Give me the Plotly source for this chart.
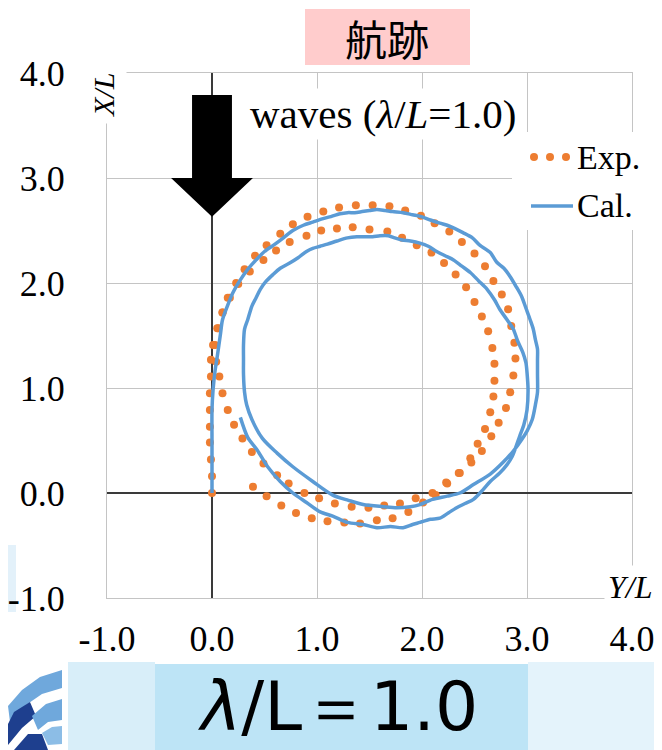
import plotly.graph_objects as go

# ---------------- data (units of L) ----------------
exp_y_over_L = [0.00, 0.00, -0.01, -0.02, -0.02, -0.02, -0.02, -0.01, -0.01, 0.01,
                0.05, 0.10, 0.15, 0.23, 0.31, 0.41, 0.52, 0.65, 0.77, 0.91,
                1.06, 1.21, 1.37, 1.53, 1.69, 1.84, 1.99, 2.12, 2.26, 2.38,
                2.50, 2.60, 2.68, 2.76, 2.82, 2.85, 2.88, 2.89, 2.87, 2.84,
                2.80, 2.73, 2.66, 2.57, 2.47, 2.35, 2.24, 2.10, 1.94, 1.79,
                1.64, 1.49, 1.33, 1.17, 1.02, 0.88, 0.73, 0.62, 0.49, 0.38,
                0.29, 0.21, 0.15, 0.10, 0.07, 0.04, 0.03, 0.06, 0.10, 0.17,
                0.25, 0.36, 0.49, 0.61, 0.74, 0.90, 1.04, 1.19, 1.34, 1.50,
                1.67, 1.81, 1.95, 2.09, 2.21, 2.32, 2.42, 2.50, 2.57, 2.63,
                2.67, 2.69, 2.69, 2.68, 2.65, 2.60, 2.53, 2.46, 2.36, 2.23,
                2.13, 2.01, 1.87, 1.72, 1.57, 1.41, 1.26, 1.10, 0.95, 0.80,
                0.66, 0.52, 0.39]
exp_x_over_L = [0.00, 0.16, 0.32, 0.48, 0.63, 0.79, 0.95, 1.11, 1.27, 1.41,
                1.57, 1.72, 1.86, 2.00, 2.13, 2.26, 2.36, 2.47, 2.56, 2.63,
                2.68, 2.72, 2.74, 2.74, 2.73, 2.69, 2.64, 2.57, 2.49, 2.39,
                2.28, 2.16, 2.02, 1.89, 1.75, 1.59, 1.43, 1.28, 1.12, 0.96,
                0.81, 0.67, 0.54, 0.40, 0.29, 0.19, 0.09, 0.00, -0.05, -0.10,
                -0.12, -0.14, -0.13, -0.10, -0.05, 0.00, 0.09, 0.17, 0.28, 0.39,
                0.52, 0.65, 0.79, 0.95, 1.11, 1.25, 1.41, 1.57, 1.72, 1.86,
                1.99, 2.11, 2.22, 2.31, 2.39, 2.45, 2.50, 2.52, 2.53, 2.51,
                2.49, 2.43, 2.36, 2.29, 2.19, 2.08, 1.96, 1.82, 1.68, 1.54,
                1.38, 1.23, 1.07, 0.92, 0.77, 0.61, 0.47, 0.33, 0.19, 0.10,
                -0.02, -0.09, -0.18, -0.24, -0.26, -0.29, -0.28, -0.27, -0.24, -0.19,
                -0.12, -0.03, 0.06]

cal_y_over_L = [0.00, 0.00, 0.00, 0.00, 0.01, 0.03, 0.05, 0.08, 0.10, 0.15,
                0.20, 0.27, 0.34, 0.42, 0.50, 0.60, 0.68, 0.77, 0.87, 0.96,
                1.05, 1.12, 1.22, 1.29, 1.36, 1.43, 1.50, 1.57, 1.65, 1.72,
                1.82, 1.91, 2.00, 2.08, 2.17, 2.24, 2.31, 2.39, 2.48, 2.55,
                2.65, 2.71, 2.78, 2.84, 2.90, 2.95, 2.99, 3.03, 3.06, 3.08,
                3.10, 3.10, 3.10, 3.10, 3.08, 3.05, 3.00, 2.95, 2.87, 2.77,
                2.65, 2.49, 2.36, 2.24, 2.10, 1.98, 1.89, 1.76, 1.63, 1.44,
                1.30, 1.15, 0.96, 0.77, 0.62, 0.48, 0.38, 0.33, 0.31, 0.30,
                0.30, 0.30, 0.31, 0.34, 0.38, 0.42, 0.46, 0.51, 0.58, 0.65,
                0.74, 0.82, 0.90, 0.96, 1.03, 1.10, 1.19, 1.29, 1.38, 1.46,
                1.53, 1.60, 1.68, 1.74, 1.81, 1.89, 1.98, 2.06, 2.14, 2.22,
                2.30, 2.38, 2.46, 2.54, 2.62, 2.69, 2.74, 2.81, 2.87, 2.91,
                2.96, 2.99, 3.00, 3.01, 3.00, 2.97, 2.93, 2.86, 2.81, 2.74,
                2.65, 2.58, 2.49, 2.41, 2.33, 2.25, 2.17, 2.08, 1.98, 1.91,
                1.82, 1.70, 1.57, 1.44, 1.29, 1.15, 1.03, 0.90, 0.77, 0.65,
                0.53, 0.43, 0.34, 0.27]
cal_x_over_L = [0.00, 0.22, 0.51, 0.79, 0.98, 1.17, 1.30, 1.51, 1.65, 1.79,
                1.91, 2.03, 2.13, 2.22, 2.30, 2.37, 2.43, 2.50, 2.55, 2.58,
                2.61, 2.63, 2.66, 2.67, 2.67, 2.68, 2.69, 2.70, 2.69, 2.68,
                2.67, 2.65, 2.63, 2.60, 2.57, 2.55, 2.52, 2.48, 2.43, 2.36,
                2.29, 2.20, 2.14, 2.06, 1.96, 1.87, 1.76, 1.65, 1.56, 1.46,
                1.37, 1.27, 1.13, 0.96, 0.84, 0.70, 0.59, 0.51, 0.40, 0.29,
                0.18, 0.08, 0.00, -0.03, -0.06, -0.11, -0.13, -0.14, -0.13, -0.11,
                -0.07, -0.02, 0.11, 0.25, 0.38, 0.52, 0.70, 0.84, 0.96, 1.13,
                1.27, 1.41, 1.56, 1.65, 1.78, 1.86, 1.94, 2.01, 2.08, 2.14,
                2.19, 2.24, 2.30, 2.33, 2.35, 2.37, 2.40, 2.43, 2.44, 2.44,
                2.44, 2.45, 2.45, 2.43, 2.41, 2.40, 2.38, 2.35, 2.30, 2.26,
                2.22, 2.16, 2.10, 2.02, 1.94, 1.84, 1.75, 1.65, 1.56, 1.45,
                1.34, 1.24, 1.15, 0.98, 0.79, 0.65, 0.54, 0.35, 0.27, 0.19,
                0.11, 0.03, -0.06, -0.10, -0.14, -0.19, -0.24, -0.25, -0.28, -0.30,
                -0.33, -0.32, -0.33, -0.30, -0.28, -0.22, -0.18, -0.09, 0.00, 0.11,
                0.25, 0.41, 0.53, 0.72]

tick_vals = [-1, 0, 1, 2, 3, 4]
tick_text = ["-1.0", "0.0", "1.0", "2.0", "3.0", "4.0"]

series_names = ["Exp.", "Cal."]
title_text = "航跡"
wave_text = "waves (<i>λ</i>/<i>L</i>=1.0)"
banner_text = "<i>λ</i>/L＝1.0"

# ---------------- styling ----------------
W, H = 662, 750
OFF = 8  # page body margin of the written html
# plot area in page pixels: x 107..632, y 73..598
ML, MT = 107 - OFF, 73 - OFF
MR, MB = W - (632 - OFF), H - (598 - OFF)
PW, PH = W - ML - MR, H - MT - MB
ORANGE = "#ED7D31"
BLUE = "#5B9BD5"
SERIF = "Liberation Serif, Times New Roman, serif"
CJK = "Noto Sans CJK JP, Noto Sans, sans-serif"
SANS = "DejaVu Sans, Noto Sans, sans-serif"


def px(x):
    """page pixel x -> paper coordinate"""
    return (x - OFF - ML) / PW


def py(y):
    """page pixel y -> paper coordinate"""
    return (H - MB - (y - OFF)) / PH


fig = go.Figure()
fig.add_trace(go.Scatter(x=exp_y_over_L, y=exp_x_over_L, mode="markers", name=series_names[0],
                         marker=dict(color=ORANGE, size=8, line=dict(width=0))))
fig.add_trace(go.Scatter(x=cal_y_over_L, y=cal_x_over_L, mode="lines", name=series_names[1],
                         line=dict(color=BLUE, width=3.5, shape="spline", smoothing=0.8)))

axis_common = dict(range=[-1, 4], tickvals=tick_vals, ticktext=tick_text, showgrid=True,
                   gridcolor="#C4C4C4", gridwidth=1, zeroline=True, zerolinecolor="#3A3A3A",
                   zerolinewidth=1.5, showline=True, mirror=True, linecolor="#C4C4C4", linewidth=1,
                   ticks="", automargin=False,
                   tickfont=dict(family=SERIF, size=36, color="black"))
fig.update_xaxes(**axis_common, ticklabelstandoff=9)
fig.update_yaxes(**axis_common, ticklabelstandoff=34)

shapes = []
# wave arrow (data coordinates)
shapes.append(dict(type="path", xref="x", yref="y", layer="above",
                   path="M -0.19 3.79 L 0.19 3.79 L 0.19 3.0 L 0.39 3.0 L 0 2.63 L -0.39 3.0 L -0.19 3.0 Z",
                   fillcolor="black", line=dict(width=0)))
# legend background
shapes.append(dict(type="rect", xref="paper", yref="paper", layer="above",
                   x0=px(512), x1=px(670), y0=py(132), y1=py(230),
                   fillcolor="white", line=dict(width=0)))
# legend samples
for cx in (534, 550, 566):
    shapes.append(dict(type="circle", xref="paper", yref="paper", layer="above",
                       x0=px(cx - 4), x1=px(cx + 4), y0=py(161), y1=py(153),
                       fillcolor=ORANGE, line=dict(width=0)))
shapes.append(dict(type="line", xref="paper", yref="paper", layer="above",
                   x0=px(531), x1=px(573), y0=py(206), y1=py(206),
                   line=dict(color=BLUE, width=3.5)))
# title box
shapes.append(dict(type="rect", xref="paper", yref="paper", layer="above",
                   x0=px(305), x1=px(470), y0=py(9), y1=py(65),
                   fillcolor="#FFCCCC", line=dict(width=0)))
# bottom banner
shapes.append(dict(type="rect", xref="paper", yref="paper", layer="below",
                   x0=px(68), x1=px(155), y0=py(662), y1=py(760),
                   fillcolor="#D8EEF9", line=dict(width=0)))
shapes.append(dict(type="rect", xref="paper", yref="paper", layer="below",
                   x0=px(528), x1=px(670), y0=py(662), y1=py(760),
                   fillcolor="#E4F3FB", line=dict(width=0)))
shapes.append(dict(type="rect", xref="paper", yref="paper", layer="below",
                   x0=px(155), x1=px(528), y0=py(664), y1=py(760),
                   fillcolor="#BDE4F6", line=dict(width=0)))
# faint background patch at the left
shapes.append(dict(type="rect", xref="paper", yref="paper", layer="below",
                   x0=px(OFF), x1=px(16), y0=py(545), y1=py(612),
                   fillcolor="#E3F1FA", line=dict(width=0)))


def poly(points, color):
    d = "M " + " L ".join(f"{px(a):.5f} {py(b):.5f}" for a, b in points) + " Z"
    return dict(type="path", xref="paper", yref="paper", layer="below", path=d,
                fillcolor=color, line=dict(width=0))


# logo (bottom-left)
shapes.append(poly([(8, 706), (22, 690), (40, 677), (62, 670), (62, 688), (42, 694), (26, 705), (10, 722)], "#6FA8DC"))
shapes.append(poly([(8, 724), (14, 712), (30, 702), (36, 716), (22, 728), (8, 745)], "#1E3F8E"))
shapes.append(poly([(32, 716), (46, 704), (62, 699), (62, 720), (48, 722), (38, 730)], "#6FA8DC"))
shapes.append(poly([(14, 750), (28, 734), (42, 734), (48, 750)], "#1E3F8E"))
shapes.append(poly([(42, 733), (52, 727), (62, 726), (62, 744), (48, 745)], "#8CBDE6"))

annotations = [
    dict(text=title_text, x=px(387), y=py(37), xref="paper", yref="paper", showarrow=False,
         xanchor="center", yanchor="middle", font=dict(family=CJK, size=42, color="black")),
    dict(text=wave_text, x=px(383), y=py(114), xref="paper", yref="paper", showarrow=False,
         xanchor="center", yanchor="middle", bgcolor="white", borderpad=2,
         font=dict(family=SERIF, size=41, color="black")),
    dict(text="<i>X/L</i>", x=px(103), y=py(95), xref="paper", yref="paper", showarrow=False,
         xanchor="center", yanchor="middle", textangle=-90, bgcolor="white", borderpad=6,
         font=dict(family=SERIF, size=30, color="black")),
    dict(text="<i>Y/L</i>", x=px(630), y=py(587), xref="paper", yref="paper", showarrow=False,
         xanchor="center", yanchor="middle", bgcolor="white", borderpad=3,
         font=dict(family=SERIF, size=32, color="black")),
    dict(text=series_names[0], x=px(575), y=py(157), xref="paper", yref="paper", showarrow=False,
         xanchor="left", yanchor="middle", font=dict(family=SERIF, size=34, color="black")),
    dict(text=series_names[1], x=px(575), y=py(206), xref="paper", yref="paper", showarrow=False,
         xanchor="left", yanchor="middle", font=dict(family=SERIF, size=34, color="black")),
    dict(text=banner_text, x=px(338), y=py(706), xref="paper", yref="paper", showarrow=False,
         xanchor="center", yanchor="middle", font=dict(family=SANS, size=68, color="black")),
]

fig.update_layout(width=W, height=H, margin=dict(l=ML, r=MR, t=MT, b=MB),
                  paper_bgcolor="white", plot_bgcolor="white", showlegend=False,
                  shapes=shapes, annotations=annotations)

fig.write_html("out.html")
